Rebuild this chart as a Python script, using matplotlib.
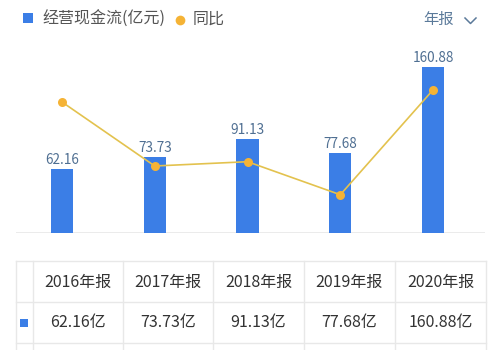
import matplotlib
matplotlib.use("Agg")
import matplotlib.pyplot as plt

plt.rcParams['font.family'] = ['Noto Sans CJK SC', 'DejaVu Sans']

# Data
years = ["2016年报", "2017年报", "2018年报", "2019年报", "2020年报"]
cash_flow = [62.16, 73.73, 91.13, 77.68, 160.88]     # 亿元
yoy = [93.0, 18.6, 23.6, -14.8, 107.1]               # 同比 %

BAR = "#3b7ee6"
DOT = "#f5b335"
LINE = "#e3c24e"
LABEL = "#4f6f92"
TEXT = "#333333"
GRID = "#e8e8e8"

W, H = 500, 350
fig = plt.figure(figsize=(W / 100, H / 100), dpi=100)

def fx(px):
    return px / W

def fy(py):
    return 1 - py / H

# Background layer in pixel coordinates for the header and table
bg = fig.add_axes([0, 0, 1, 1], zorder=0)
bg.set_xlim(0, W)
bg.set_ylim(H, 0)
bg.axis("off")

# Legend header
bg.add_patch(plt.Rectangle((23, 13), 10, 10, color=BAR, lw=0))
bg.text(42, 19, "经营现金流(亿元)", fontsize=11.5, color="#555555", va="center", ha="left")
bg.plot([180], [19.5], "o", color=DOT, markersize=7, mec="none")
bg.text(193, 19, "同比", fontsize=11.5, color="#555555", va="center", ha="left")
bg.text(454, 19, "年报", fontsize=11, color="#5b7a9a", va="center", ha="right")
bg.plot([465, 470.5, 476], [18, 23.5, 18], color="#5b7a9a", lw=1.1)

# Table grid
col_edges = [16, 33, 123, 213, 304, 395, 486]
row_edges = [261, 302, 343]
for y in row_edges:
    bg.plot([16, 486], [y, y], color=GRID, lw=1)
for x in col_edges:
    bg.plot([x, x], [261, H], color=GRID, lw=1)

for i, (yr, v) in enumerate(zip(years, cash_flow)):
    cx = (col_edges[i + 1] + col_edges[i + 2]) / 2
    bg.text(cx, 282, yr, fontsize=11.5, color=TEXT, ha="center", va="center")
    bg.text(cx, 323, f"{v:.2f}亿", fontsize=11.5, color=TEXT, ha="center", va="center")
bg.add_patch(plt.Rectangle((20, 319), 8, 8, color=BAR, lw=0))

# Chart area
left, right, top, bottom = 16, 485, 48, 233
ax = fig.add_axes([fx(left), fy(bottom), fx(right - left), fy(top) - fy(bottom)], zorder=1)
ax.patch.set_alpha(0)
x = list(range(len(years)))
ax.bar(x, cash_flow, width=0.24, color=BAR, zorder=2)
for xi, v in zip(x, cash_flow):
    ax.text(xi, v + 1.5, f"{v:.2f}", fontsize=9.8, color=LABEL, ha="center", va="bottom")
ax.set_xlim(-0.496, 4.56)
ax.set_ylim(0, 179.3)
ax.axhline(0, color=GRID, lw=1.2, zorder=1)
for s in ax.spines.values():
    s.set_visible(False)
ax.set_xticks([])
ax.set_yticks([])

ax2 = ax.twinx()
ax2.plot(x, yoy, color=LINE, lw=1.2, marker="o", markersize=6.5,
         markerfacecolor=DOT, markeredgecolor="none", zorder=3)
ax2.set_ylim(-59.3, 155.8)
for s in ax2.spines.values():
    s.set_visible(False)
ax2.set_yticks([])

fig.savefig("out.png", dpi=100)
